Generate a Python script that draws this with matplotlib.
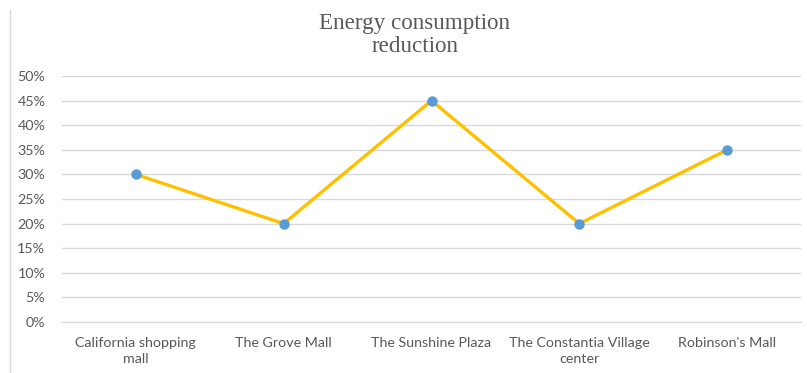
import matplotlib.pyplot as plt
from matplotlib.lines import Line2D
from matplotlib.ticker import PercentFormatter

# data
malls = ["California shopping\nmall", "The Grove Mall", "The Sunshine Plaza",
         "The Constantia Village\ncenter", "Robinson's Mall"]
reduction = [30, 20, 45, 20, 35]
y_ticks = [0, 5, 10, 15, 20, 25, 30, 35, 40, 45, 50]

fig = plt.figure(figsize=(8.07, 3.73), dpi=100)
ax = fig.add_axes([0.0768, 0.1367, 0.9158, 0.6595])

x = list(range(len(malls)))
ax.plot(x, reduction, color="#FFC000", lw=2.4, zorder=3)
ax.plot(x, reduction, ls="none", marker="o", ms=6.5, color="#5B9BD5", zorder=4)

ax.set_xlim(-0.5, len(malls) - 0.5)
ax.set_ylim(0, 50)
ax.set_yticks(y_ticks)
ax.yaxis.set_major_formatter(PercentFormatter(decimals=0))
ax.set_xticks(x)
ax.set_xticklabels(malls, fontfamily="Lato", fontsize=10.3, color="#595959",
                   linespacing=1.35)
for lab in ax.get_yticklabels():
    lab.set_fontfamily("Lato")
    lab.set_fontsize(10.3)
    lab.set_color("#595959")

ax.grid(axis="y", color="#D9D9D9", lw=1)
ax.set_axisbelow(True)
ax.tick_params(length=0)
ax.tick_params(axis="x", pad=11)
ax.tick_params(axis="y", pad=12)
for s in ax.spines.values():
    s.set_visible(False)
ax.spines["bottom"].set_visible(True)
ax.spines["bottom"].set_color("#D9D9D9")

fig.text(0.514, 0.906, "Energy consumption\nreduction", ha="center", va="center",
         fontfamily="Liberation Serif", fontsize=16.6, color="#595959",
         linespacing=1.13)

# chart frame line on the left
fig.add_artist(Line2D([0.0118, 0.0118], [0.0, 0.973], color="#D9D9D9", lw=1))

fig.savefig("out.png", dpi=100, facecolor="white")
